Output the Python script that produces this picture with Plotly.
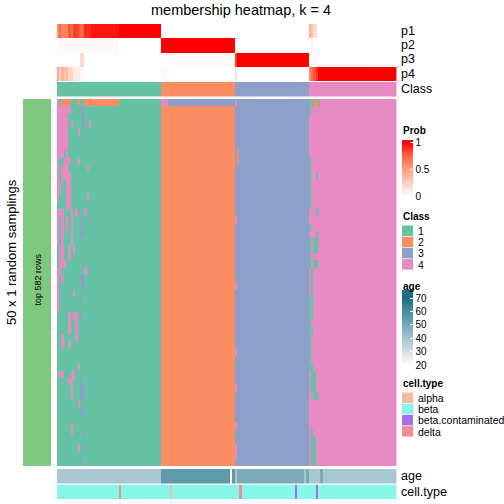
import plotly.graph_objects as go

W = H = 504
FONT = "Liberation Sans, Arial, sans-serif"

# ---------------- data ----------------
class_sizes = [45, 32, 32, 38]          # columns (samples) per consensus class
class_labels = ["1", "2", "3", "4"]
class_colors = ["#66C2A5", "#FC8D62", "#8DA0CB", "#E78AC3"]
n_rows = 50                               # 50 x 1 random samplings

col_class = []
for k, n in enumerate(class_sizes):
    col_class += [k + 1] * n
N = len(col_class)

p1 = ([0.55, 0.75, 0.6, 0.65, 0.6, 0.8, 0.7, 0.85, 0.85, 0.8, 0.75, 0.75, 0.9, 0.9, 0.9]
      + [0.95] * 12 + [1] * 18 + [0] * 32 + [0] * 32 + [0.4, 0.3, 0.2, 0.1] + [0] * 34)
p2 = ([0.04] * 27 + [0] * 18 + [1] * 32 + [0.02, 0.04] + [0] * 30
      + [0, 0.05, 0, 0] + [0] * 34)
p3 = ([0] * 10 + [0.2, 0.2] + [0] * 33 + [0] * 3 + [0.02] * 29
      + [0.85] + [1] * 31 + [0] * 38)
p4 = ([0.45, 0.25, 0.4, 0.3, 0.35, 0.2, 0.25, 0.1, 0.1, 0.1, 0.05, 0.05] + [0] * 33
      + [0.03] * 3 + [0] * 29 + [0.15] + [0] * 31 + [0.6, 0.7, 0.8, 0.9] + [1] * 34)
prob_rows = ["p1", "p2", "p3", "p4"]

age = ([39] * 45 + [55] * 30 + [None] + [55] + [39] + [49] * 29 + [39] + [49]
       + [39] * 5 + [49] + [39] * 32)

cell_types = ["alpha", "beta", "beta.contaminated", "delta"]
cell_colors = ["#F7B9A1", "#85F8EA", "#A470E8", "#F38D94"]
cell_type = ["beta"] * N
for c, t in [(27, "delta"), (49, "alpha"), (79, "delta"),
             (103, "beta.contaminated"), (112, "beta.contaminated")]:
    cell_type[c] = t

# deviations from the consensus class: (row_from, row_to, col_from, col_to, class)
deviations = [
    (0, 0, 0, 0, 4), (0, 0, 2, 5, 2), (0, 0, 9, 9, 2), (0, 0, 12, 26, 2),
    (0, 0, 45, 47, 4), (0, 0, 48, 76, 3), (0, 0, 77, 77, 4),
    (0, 0, 109, 110, 1), (0, 0, 111, 112, 2), (0, 0, 113, 113, 1),
    (1, 1, 0, 5, 4), (1, 1, 10, 11, 3),
    (2, 2, 0, 4, 4), (2, 2, 11, 11, 3),
    (3, 3, 0, 4, 4), (3, 3, 6, 6, 4), (3, 3, 11, 11, 3), (3, 3, 14, 14, 4),
    (4, 4, 0, 4, 4), (4, 4, 9, 9, 4),
    (5, 6, 0, 4, 4),
    (7, 7, 0, 2, 4), (7, 7, 4, 4, 4),
    (8, 8, 0, 0, 4), (8, 8, 3, 5, 4), (8, 8, 9, 9, 4),
    (9, 9, 0, 0, 4), (9, 9, 2, 4, 4), (9, 9, 13, 13, 4),
    (10, 10, 0, 0, 4), (10, 10, 2, 5, 4),
    (11, 12, 0, 1, 4), (11, 12, 4, 5, 4),
    (13, 13, 0, 0, 4), (13, 13, 4, 5, 4), (13, 13, 13, 13, 4),
    (14, 14, 4, 5, 4),
    (15, 15, 0, 2, 4), (15, 15, 6, 6, 4), (15, 15, 8, 8, 4), (15, 15, 12, 12, 4),
    (16, 17, 0, 0, 4), (16, 17, 2, 2, 4), (16, 17, 4, 4, 4), (16, 17, 6, 6, 4), (16, 17, 10, 10, 3),
    (18, 18, 0, 0, 4), (18, 18, 2, 2, 4), (18, 18, 6, 6, 4), (18, 18, 10, 11, 3),
    (19, 19, 0, 0, 4), (19, 19, 2, 2, 4), (19, 19, 6, 6, 4),
    (20, 20, 1, 2, 4), (20, 20, 5, 5, 4), (20, 20, 7, 7, 4),
    (21, 21, 1, 2, 4), (21, 21, 5, 5, 4),
    (22, 22, 1, 3, 4), (22, 22, 11, 11, 3),
    (23, 23, 0, 1, 4), (23, 23, 12, 12, 4),
    (24, 24, 0, 0, 4), (24, 24, 2, 2, 4), (24, 24, 10, 11, 3),
    (25, 25, 0, 0, 4), (25, 25, 11, 11, 3),
    (26, 26, 0, 0, 4), (26, 26, 7, 7, 4),
    (27, 27, 0, 0, 4), (27, 27, 10, 10, 3),
    (28, 28, 0, 0, 4),
    (29, 29, 5, 5, 4), (29, 29, 7, 8, 4), (29, 29, 10, 10, 3),
    (30, 31, 5, 5, 4), (30, 31, 8, 8, 4),
    (32, 32, 2, 2, 4), (32, 32, 8, 8, 4),
    (33, 33, 2, 2, 4), (33, 33, 5, 5, 4),
    (36, 36, 9, 9, 4),
    (37, 37, 1, 2, 4), (37, 37, 6, 7, 4),
    (38, 38, 5, 6, 4), (38, 38, 10, 10, 3),
    (39, 40, 6, 6, 4), (39, 40, 10, 11, 3),
    (41, 41, 9, 9, 4),
    (42, 42, 10, 11, 3),
    (44, 44, 6, 6, 4),
    (45, 45, 6, 6, 4), (45, 45, 11, 11, 3),
    (47, 47, 9, 9, 4), (47, 47, 11, 11, 3),
    (49, 49, 10, 10, 3),
    # class 3 block
    (7, 8, 78, 78, 2),
    (16, 16, 77, 77, 4), (25, 25, 77, 77, 4), (34, 34, 77, 77, 4), (39, 39, 77, 77, 4),
    (44, 44, 77, 77, 4), (47, 48, 77, 77, 4),
    # class 4 block
    (1, 1, 109, 109, 1), (8, 14, 109, 109, 1), (10, 10, 112, 112, 1), (15, 15, 112, 112, 1),
    (17, 17, 109, 109, 1), (18, 18, 112, 112, 1), (19, 20, 109, 109, 1), (19, 20, 111, 112, 1),
    (21, 21, 109, 109, 1), (22, 22, 109, 109, 1), (22, 22, 111, 112, 1), (23, 26, 110, 110, 1),
    (27, 29, 109, 110, 1), (30, 30, 109, 109, 1), (31, 31, 109, 110, 1), (32, 35, 109, 109, 1),
    (36, 36, 109, 110, 1), (37, 39, 110, 111, 1), (40, 40, 111, 112, 1), (45, 45, 110, 110, 1),
    (46, 49, 110, 111, 1),
]

# ---------------- build matrices ----------------
M = [list(col_class) for _ in range(n_rows)]
for r0, r1, c0, c1, k in deviations:
    for r in range(r0, r1 + 1):
        for c in range(c0, c1 + 1):
            M[r][c] = k

cols = list(range(N))


def px_x(x):
    return x / W


def px_y(y):
    return 1 - y / H


def discrete_scale(colors):
    n = len(colors)
    s = []
    for i, c in enumerate(colors):
        s.append([i / n, c])
        s.append([(i + 1) / n, c])
    return s


# white -> red, Lab-like interpolation, padded so the legend ticks sit inside the bar
p_lo, p_hi = -0.03, 1.05
prob_stops = [(0, "#FFFFFF"), (0.25, "#FFCFBF"), (0.5, "#FF9E81"), (0.75, "#FF6846"), (1, "#FF0000")]
prob_scale = [[0, "#FFFFFF"]] + [[(v - p_lo) / (p_hi - p_lo), c] for v, c in prob_stops] + [[1, "#FF0000"]]

a_lo, a_hi = 17.8, 76.0
f20 = (20 - a_lo) / (a_hi - a_lo)
f70 = (70 - a_lo) / (a_hi - a_lo)
age_scale = [[0, "#FFFFFF"], [f20, "#FFFFFF"], [f70, "#1B6E87"], [1, "#1B6E87"]]

X0, X1 = 56.7, 396.6

fig = go.Figure()

fig.add_trace(go.Heatmap(
    z=[p1, p2, p3, p4], x=cols, y=prob_rows, zmin=p_lo, zmax=p_hi,
    colorscale=prob_scale, xaxis="x", yaxis="y", hoverinfo="skip",
    colorbar=dict(x=px_x(402), xanchor="left", xpad=0, y=px_y(140), yanchor="top", ypad=0,
                  len=58, lenmode="pixels", thickness=11, thicknessmode="pixels",
                  outlinewidth=0, tickvals=[0, 0.5, 1], ticktext=["0", "0.5", "1"],
                  ticks="inside", ticklen=3, tickcolor="white",
                  tickfont=dict(family=FONT, size=10, color="#000"))))

fig.add_trace(go.Heatmap(
    z=[col_class], x=cols, y=["Class"], zmin=0.5, zmax=4.5,
    colorscale=discrete_scale(class_colors), showscale=False,
    xaxis="x", yaxis="y2", hoverinfo="skip"))

fig.add_trace(go.Heatmap(
    z=M, x=cols, y=list(range(n_rows)), zmin=0.5, zmax=4.5,
    colorscale=discrete_scale(class_colors), showscale=False,
    xaxis="x", yaxis="y3", hoverinfo="skip"))

fig.add_trace(go.Heatmap(
    z=[age], x=cols, y=["age"], zmin=a_lo, zmax=a_hi, colorscale=age_scale,
    xaxis="x", yaxis="y4", hoverinfo="skip",
    colorbar=dict(x=px_x(402), xanchor="left", xpad=0, y=px_y(290), yanchor="top", ypad=0,
                  len=78, lenmode="pixels", thickness=11, thicknessmode="pixels",
                  outlinewidth=0, tickvals=[20, 30, 40, 50, 60, 70],
                  ticks="inside", ticklen=3, tickcolor="white",
                  tickfont=dict(family=FONT, size=10, color="#000"))))

cell_code = [cell_types.index(t) + 1 for t in cell_type]
fig.add_trace(go.Heatmap(
    z=[cell_code], x=cols, y=["cell.type"], zmin=0.5, zmax=4.5,
    colorscale=discrete_scale(cell_colors), showscale=False,
    xaxis="x", yaxis="y5", hoverinfo="skip"))

ydom = {
    "yaxis": (24, 81), "yaxis2": (82, 96.5), "yaxis3": (99, 466),
    "yaxis4": (469, 483.5), "yaxis5": (484.5, 499),
}
layout = dict(
    width=W, height=H, margin=dict(l=0, r=0, t=0, b=0),
    paper_bgcolor="white", plot_bgcolor="white", showlegend=False,
    xaxis=dict(domain=[px_x(X0), px_x(X1)], range=[-0.5, N - 0.5], visible=False,
               fixedrange=True),
)
for name, (ytop, ybot) in ydom.items():
    layout[name] = dict(domain=[px_y(ybot), px_y(ytop)], visible=False,
                        autorange="reversed", anchor="x", fixedrange=True)
fig.update_layout(**layout)

shapes = []
annos = []


def text(x, y, s, size=12, xanchor="left", bold=False, angle=0):
    annos.append(dict(x=px_x(x), y=px_y(y), xref="paper", yref="paper", text=("<b>%s</b>" % s) if bold else s,
                      showarrow=False, xanchor=xanchor, yanchor="middle", textangle=angle,
                      font=dict(family=FONT, size=size, color="#000")))


# left row-annotation bar
shapes.append(dict(type="rect", xref="paper", yref="paper", x0=px_x(23), x1=px_x(51),
                   y0=px_y(466), y1=px_y(99), fillcolor="#7FC97F", line=dict(width=0), layer="below"))
text(37.5, 280, "top 582 rows", size=9, xanchor="center", angle=-90)
text(11, 252, "50 x 1 random samplings", size=13, xanchor="center", angle=-90)

# title
text(241, 10, "membership heatmap, k = 4", size=14.5, xanchor="center")

# annotation names on the right
for lab, yc in zip(prob_rows + ["Class"], [31, 45, 59, 73.5, 89]):
    text(399, yc, lab, size=12.5)
text(399, 476, "age", size=12.5)
text(399, 491.5, "cell.type", size=12.5)

# legends
text(401, 131, "Prob", size=10, bold=True)
text(401, 216, "Class", size=10, bold=True)
for i, (lab, col) in enumerate(zip(class_labels, class_colors)):
    y0 = 225.5 + i * 11.2
    shapes.append(dict(type="rect", xref="paper", yref="paper", x0=px_x(402), x1=px_x(413),
                       y0=px_y(y0 + 10.5), y1=px_y(y0), fillcolor=col, line=dict(width=0)))
    text(416, y0 + 5.5, lab, size=10.5)
text(401, 286, "age", size=10, bold=True)
text(401, 383, "cell.type", size=10, bold=True)
for i, (lab, col) in enumerate(zip(cell_types, cell_colors)):
    y0 = 392.5 + i * 11.2
    shapes.append(dict(type="rect", xref="paper", yref="paper", x0=px_x(402), x1=px_x(413),
                       y0=px_y(y0 + 10.5), y1=px_y(y0), fillcolor=col, line=dict(width=0)))
    text(416, y0 + 5.5, lab, size=10.5)

fig.update_layout(shapes=shapes, annotations=annos)
fig.write_html("out.html", config={"displayModeBar": False},
               post_script="document.body.style.margin='0';")
